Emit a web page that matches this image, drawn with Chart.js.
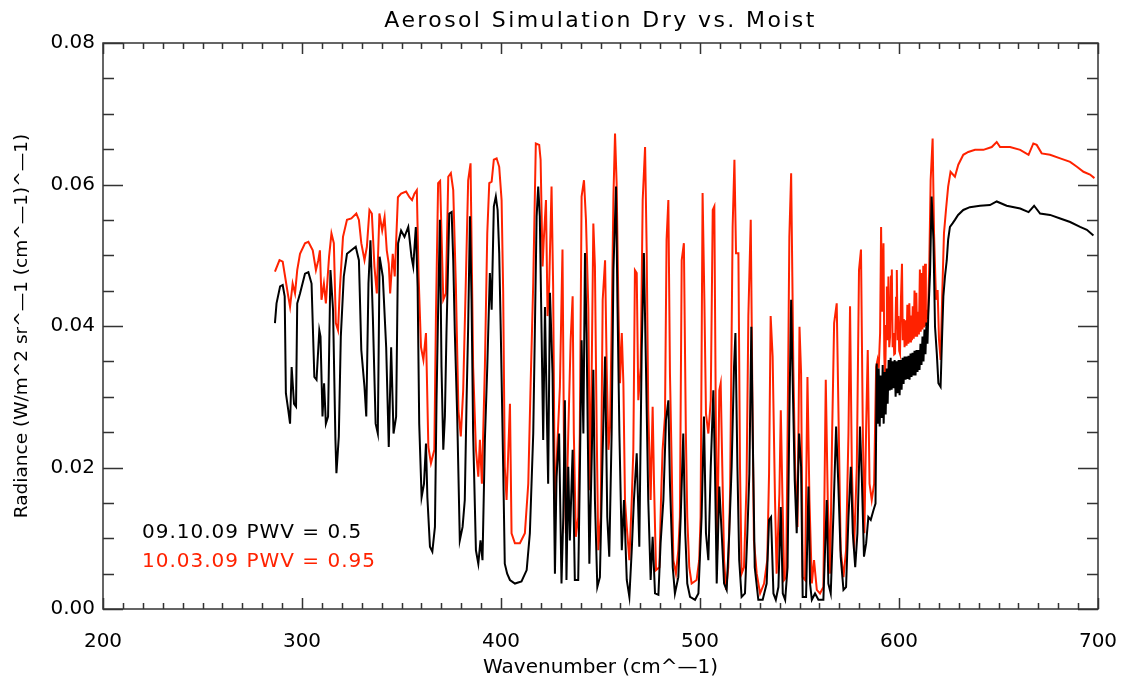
<!DOCTYPE html>
<html>
<head>
<meta charset="utf-8">
<title>Aerosol Simulation Dry vs. Moist</title>
<script src="https://cdn.jsdelivr.net/npm/chart.js@4.4.1/dist/chart.umd.min.js"></script>
<style>
    html, body { margin: 0; padding: 0; background: #fff; }
    #wrap { width: 1123px; height: 681px; }
</style>
</head>
<body>
<div id="wrap"><canvas id="canvasSpectrum" width="1123" height="681"></canvas></div>
<script>
// Wykres widma (wavenumber cm^-1, radiancja)
const TITLE = 'Aerosol Simulation Dry vs. Moist';
const X_TITLE = 'Wavenumber (cm^\u20141)';
const Y_TITLE = 'Radiance (W/m^2 sr^\u20141 (cm^\u20141)^\u20141)';
const X_TICKS = [200, 300, 400, 500, 600, 700];
const Y_TICKS = [0, 0.02, 0.04, 0.06, 0.08];
const SERIES_LABELS = ['09.10.09 PWV = 0.5', '10.03.09 PWV = 0.95'];

// 09.10.09 (sucho) — czarna
const dryWn = [
    286.4, 287.2, 289.0, 290.3, 291.3, 291.9, 293.1, 294.0, 294.8, 296.0, 297.0, 297.6, 299.0, 301.5, 303.2, 304.8,
    306.2, 307.3, 308.7, 309.3, 310.3, 311.1, 312.0, 313.1, 314.3, 315.6, 316.8, 317.3, 318.5, 319.5, 321.0, 322.6,
    324.8, 327.0, 328.6, 329.8, 331.4, 332.3, 333.4, 334.4, 335.6, 337.0, 338.1, 339.0, 340.6, 342.3, 343.6, 344.8,
    346.0, 347.3, 348.3, 349.8, 351.5, 353.4, 355.0, 355.9, 357.2, 358.1, 358.9, 360.1, 361.3, 362.3, 363.0, 364.3,
    365.5, 366.8, 367.6, 368.5, 369.3, 370.1, 371.0, 371.8, 372.6, 374.0, 375.2, 376.0, 376.8, 378.0, 379.3, 380.7,
    381.8, 382.7, 383.5, 384.4, 385.2, 386.0, 387.4, 388.6, 389.7, 390.7, 391.9, 393.1, 394.4, 395.3, 396.4, 397.4,
    398.3, 399.1, 399.9, 401.1, 401.9, 403.1, 404.5, 407.0, 410.3, 412.9, 414.5, 416.2, 417.0, 417.9, 418.7, 419.5,
    420.4, 421.2, 422.1, 422.9, 423.7, 424.6, 425.9, 427.1, 427.9, 429.2, 430.4, 431.3, 432.1, 432.9, 433.8, 434.6,
    436.0, 437.1, 438.8, 439.6, 440.5, 441.4, 442.2, 443.0, 444.4, 445.6, 446.4, 447.2, 448.4, 449.7, 451.1, 452.3,
    453.4, 454.4, 455.6, 456.5, 457.8, 458.5, 459.5, 460.7, 461.8, 463.2, 464.5, 465.7, 466.8, 468.2, 469.5, 470.7,
    471.8, 472.9, 474.0, 475.2, 476.2, 477.4, 479.1, 480.2, 481.6, 482.9, 484.1, 484.9, 486.3, 487.4, 489.1, 490.3,
    491.6, 492.6, 493.6, 495.0, 497.5, 499.2, 500.8, 502.0, 503.0, 504.2, 505.4, 506.7, 507.5, 508.4, 509.7, 510.9,
    512.1, 513.4, 514.7, 515.9, 517.1, 517.8, 518.8, 519.7, 520.9, 522.6, 523.8, 524.8, 525.8, 526.5, 527.5, 529.3,
    531.5, 533.5, 534.7, 535.7, 536.9, 538.1, 539.4, 540.6, 541.6, 542.8, 544.0, 544.9, 545.8, 546.6, 547.6, 548.6,
    549.8, 550.8, 551.6, 553.3, 554.5, 555.3, 556.2, 557.8, 559.5, 562.0, 563.7, 564.5, 565.7, 567.0, 568.4, 569.5,
    570.7, 572.1, 573.4, 574.6, 575.8, 576.8, 578.0, 579.1, 580.4, 581.3, 582.4, 583.5, 584.6, 585.8, 587.2, 588.2,
    588.8, 589.3, 589.8, 590.3, 590.8, 591.3, 591.8, 592.3, 592.8, 593.3, 593.8, 594.3, 594.8, 595.3, 595.8, 596.3,
    596.8, 597.3, 597.8, 598.3, 598.8, 599.3, 599.8, 600.3, 600.8, 601.3, 601.8, 602.3, 602.8, 603.3, 603.8, 604.3,
    604.8, 605.3, 605.8, 606.3, 606.8, 607.3, 607.8, 608.3, 608.8, 609.3, 609.8, 610.3, 610.8, 611.3, 611.8, 612.3,
    612.8, 613.3, 613.8, 614.3, 614.7, 615.6, 616.4, 617.3, 618.1, 619.0, 619.8, 620.9, 621.7, 622.3, 623.1, 624.0,
    624.7, 625.6, 626.9, 628.1, 629.7, 632.3, 635.6, 640.7, 645.7, 649.1, 654.1, 660.9, 665.1, 667.9, 670.9, 675.9,
    681.0, 686.0, 691.0, 694.4, 697.7
];
const dryRad = [
    .0404, .0432, .0456, .0458, .0442, .0305, .0281, .0262, .0342, .0290, .0286, .0432, .0446, .0474, .0476, .0460,
    .0328, .0324, .0394, .0385, .0272, .0319, .0262, .0272, .0479, .0423, .0239, .0192, .0244, .0385, .0470, .0502,
    .0507, .0512, .0493, .0366, .0314, .0272, .0460, .0521, .0413, .0262, .0248, .0498, .0470, .0370, .0229, .0370,
    .0248, .0272, .0517, .0535, .0526, .0540, .0498, .0484, .0540, .0455, .0262, .0158, .0177, .0234, .0158, .0088,
    .0081, .0116, .0295, .0437, .0550, .0342, .0225, .0272, .0390, .0559, .0561, .0493, .0390, .0272, .0097, .0116,
    .0154, .0295, .0399, .0555, .0437, .0248, .0083, .0064, .0097, .0069, .0239, .0342, .0475, .0423, .0569, .0583,
    .0564, .0503, .0390, .0201, .0064, .0050, .0041, .0036, .0039, .0055, .0107, .0248, .0390, .0555, .0597, .0555,
    .0390, .0239, .0427, .0295, .0177, .0447, .0333, .0050, .0187, .0248, .0036, .0130, .0295, .0041, .0201, .0097,
    .0225, .0041, .0041, .0187, .0380, .0248, .0503, .0390, .0064, .0215, .0338, .0154, .0031, .0045, .0225, .0357,
    .0130, .0074, .0248, .0479, .0597, .0437, .0248, .0083, .0154, .0041, .0017, .0083, .0154, .0220, .0088, .0366,
    .0503, .0333, .0154, .0041, .0102, .0022, .0020, .0093, .0154, .0267, .0295, .0177, .0059, .0022, .0045, .0130,
    .0248, .0107, .0036, .0017, .0013, .0022, .0130, .0272, .0107, .0069, .0201, .0309, .0201, .0036, .0173, .0107,
    .0036, .0027, .0107, .0201, .0342, .0390, .0201, .0069, .0017, .0022, .0107, .0191, .0399, .0248, .0059, .0013,
    .0013, .0036, .0126, .0130, .0022, .0013, .0031, .0144, .0022, .0013, .0059, .0272, .0437, .0319, .0182, .0107,
    .0248, .0201, .0017, .0017, .0173, .0036, .0013, .0022, .0013, .0013, .0154, .0036, .0022, .0130, .0258, .0177,
    .0074, .0027, .0031, .0130, .0201, .0107, .0059, .0107, .0258, .0187, .0074, .0093, .0130, .0126, .0140, .0149,
    .0347, .0262, .0340, .0258, .0330, .0270, .0345, .0262, .0335, .0275, .0340, .0290, .0352, .0309, .0355, .0310,
    .0350, .0312, .0352, .0300, .0350, .0305, .0352, .0302, .0352, .0310, .0355, .0318, .0357, .0324, .0357, .0325,
    .0358, .0324, .0361, .0328, .0362, .0330, .0365, .0330, .0366, .0335, .0366, .0338, .0375, .0345, .0385, .0350,
    .0395, .0360, .0405, .0375, .0414, .0475, .0583, .0522, .0399, .0361, .0319, .0314, .0390, .0442, .0470, .0493,
    .0522, .0540, .0545, .0550, .0557, .0564, .0568, .0570, .0571, .0576, .0570, .0566, .0561, .0570, .0559, .0557,
    .0552, .0547, .0540, .0536, .0528
];

// 10.03.09 (wilgotno) — czerwona
const moistWn = [
    286.4, 288.7, 290.3, 291.5, 293.1, 294.0, 295.3, 296.5, 297.6, 299.0, 301.5, 303.2, 305.4, 307.0, 308.2, 309.0,
    309.8, 311.0, 312.0, 313.6, 314.8, 316.0, 317.0, 318.1, 319.0, 320.6, 322.6, 324.8, 327.3, 328.6, 329.8, 331.4,
    332.6, 333.9, 335.1, 336.4, 337.6, 338.9, 340.3, 341.5, 342.6, 343.6, 344.3, 345.6, 346.6, 348.2, 349.8, 352.3,
    354.0, 355.3, 356.5, 357.7, 358.6, 359.8, 361.0, 362.3, 363.5, 364.8, 366.5, 367.3, 368.4, 369.4, 370.1, 371.0,
    372.3, 373.5, 374.8, 376.0, 377.3, 378.6, 379.8, 381.0, 382.3, 383.5, 384.7, 385.4, 386.0, 387.4, 388.6, 389.4,
    390.4, 391.9, 393.1, 394.1, 395.3, 396.4, 397.8, 399.1, 400.3, 401.1, 401.9, 402.8, 404.5, 405.3, 407.0, 409.5,
    412.0, 413.7, 414.9, 416.2, 417.5, 419.2, 419.9, 420.9, 421.5, 422.6, 423.4, 424.2, 425.4, 426.2, 427.1, 428.2,
    429.6, 430.9, 431.6, 432.6, 433.8, 435.0, 436.0, 436.6, 437.6, 438.8, 439.6, 440.5, 441.7, 442.7, 443.9, 444.7,
    445.6, 446.4, 447.2, 448.1, 448.9, 450.1, 451.1, 452.3, 453.1, 454.0, 454.8, 455.6, 456.5, 457.3, 458.1, 459.0,
    459.8, 460.7, 461.5, 462.3, 463.2, 464.5, 465.7, 466.5, 467.3, 468.2, 469.0, 470.2, 471.2, 472.4, 473.2, 474.0,
    475.2, 476.2, 476.9, 477.9, 479.6, 480.4, 481.2, 482.4, 483.2, 484.1, 484.9, 485.8, 486.6, 487.9, 489.1, 489.9,
    490.8, 491.9, 492.9, 493.6, 494.6, 495.8, 498.3, 499.6, 500.3, 501.3, 502.2, 503.0, 504.2, 505.4, 506.4, 507.2,
    508.0, 508.7, 509.7, 510.4, 511.2, 512.1, 513.1, 514.2, 515.1, 515.9, 516.4, 517.3, 518.1, 519.3, 520.1, 520.9,
    522.1, 523.4, 524.3, 525.5, 526.5, 527.1, 528.5, 530.2, 532.2, 533.8, 534.7, 535.5, 536.5, 537.7, 538.5, 539.9,
    540.6, 541.4, 542.3, 543.3, 544.1, 544.9, 545.8, 546.4, 546.9, 547.8, 549.0, 550.0, 550.8, 551.6, 552.8, 554.0,
    555.0, 556.2, 557.3, 558.7, 560.3, 562.0, 563.2, 564.2, 565.4, 566.4, 567.4, 568.7, 569.7, 570.7, 572.1, 573.4,
    574.6, 575.4, 576.3, 577.4, 578.8, 579.9, 580.9, 581.8, 582.6, 583.5, 584.3, 585.2, 586.3, 587.5, 588.5, 589.2,
    589.8, 590.5, 591.0, 591.5, 592.2, 592.6, 593.0, 593.5, 593.9, 594.3, 594.7, 595.1, 595.5, 596.0, 596.4, 596.8,
    597.2, 597.6, 598.0, 598.5, 598.9, 599.3, 599.7, 600.1, 600.5, 601.0, 601.5, 601.9, 602.4, 602.8, 603.3, 603.8,
    604.2, 604.7, 605.2, 605.6, 606.0, 606.5, 606.9, 607.4, 607.8, 608.2, 608.7, 609.1, 609.6, 610.0, 610.5, 610.9,
    611.4, 611.8, 612.2, 612.6, 613.1, 613.5, 613.9, 614.5, 615.2, 615.9, 616.9, 617.6, 618.6, 619.4, 620.1, 620.9,
    621.7, 622.6, 623.6, 624.7, 625.9, 628.1, 629.8, 632.3, 634.8, 638.2, 642.4, 646.6, 649.1, 650.8, 655.8, 660.9,
    665.1, 667.5, 669.2, 671.7, 675.9, 681.0, 686.0, 689.4, 692.7, 696.0, 698.2
];
const moistRad = [
    .0477, .0493, .0491, .0470, .0442, .0427, .0460, .0446, .0479, .0502, .0517, .0519, .0507, .0479, .0493, .0507,
    .0437, .0460, .0432, .0498, .0531, .0517, .0404, .0394, .0451, .0526, .0550, .0552, .0559, .0550, .0517, .0493,
    .0512, .0564, .0559, .0484, .0446, .0559, .0535, .0554, .0507, .0488, .0446, .0502, .0470, .0582, .0587, .0590,
    .0582, .0578, .0587, .0592, .0470, .0370, .0352, .0390, .0229, .0206, .0225, .0413, .0602, .0605, .0531, .0437,
    .0446, .0611, .0616, .0592, .0460, .0281, .0244, .0309, .0460, .0606, .0630, .0475, .0342, .0225, .0187, .0239,
    .0177, .0342, .0531, .0602, .0604, .0635, .0637, .0625, .0578, .0447, .0201, .0154, .0290, .0107, .0093, .0093,
    .0107, .0177, .0319, .0461, .0658, .0656, .0635, .0484, .0522, .0578, .0414, .0456, .0597, .0456, .0130, .0225,
    .0314, .0508, .0248, .0107, .0248, .0380, .0442, .0248, .0102, .0130, .0248, .0583, .0606, .0550, .0423, .0168,
    .0342, .0545, .0484, .0248, .0083, .0130, .0437, .0493, .0342, .0225, .0258, .0399, .0583, .0672, .0602, .0428,
    .0319, .0390, .0319, .0154, .0116, .0069, .0154, .0225, .0479, .0475, .0295, .0342, .0578, .0653, .0508, .0281,
    .0154, .0286, .0177, .0055, .0059, .0154, .0225, .0272, .0522, .0578, .0333, .0201, .0069, .0050, .0083, .0130,
    .0493, .0517, .0248, .0130, .0059, .0036, .0041, .0069, .0130, .0588, .0437, .0276, .0248, .0295, .0564, .0569,
    .0248, .0083, .0309, .0319, .0201, .0069, .0027, .0059, .0163, .0390, .0540, .0635, .0503, .0503, .0201, .0050,
    .0059, .0177, .0414, .0550, .0248, .0097, .0050, .0022, .0036, .0069, .0191, .0414, .0357, .0154, .0050, .0163,
    .0281, .0163, .0041, .0045, .0272, .0526, .0616, .0470, .0342, .0201, .0116, .0399, .0333, .0045, .0041, .0328,
    .0154, .0036, .0069, .0027, .0022, .0031, .0324, .0154, .0050, .0248, .0404, .0432, .0258, .0083, .0045, .0083,
    .0248, .0428, .0201, .0083, .0201, .0479, .0508, .0258, .0107, .0258, .0366, .0177, .0154, .0177, .0342, .0352,
    .0340, .0390, .0540, .0420, .0517, .0360, .0319, .0400, .0456, .0380, .0470, .0370, .0385, .0470, .0480, .0370,
    .0390, .0360, .0361, .0440, .0479, .0380, .0414, .0365, .0361, .0440, .0488, .0380, .0410, .0370, .0408, .0372,
    .0430, .0375, .0432, .0378, .0415, .0380, .0428, .0382, .0450, .0385, .0447, .0385, .0420, .0388, .0480, .0392,
    .0475, .0395, .0485, .0398, .0488, .0400, .0423, .0410, .0484, .0606, .0665, .0531, .0437, .0451, .0381, .0352,
    .0442, .0531, .0564, .0597, .0618, .0611, .0628, .0642, .0646, .0649, .0649, .0653, .0660, .0653, .0653, .0649,
    .0642, .0658, .0656, .0644, .0642, .0637, .0632, .0625, .0618, .0614, .0609
];

const FONT = 'DejaVu Sans';
const RED = '#ff2200';

function toPoints(xs, ys) {
    return xs.map((x, i) => ({ x: x, y: ys[i] }));
}

// Ramka z tickami do wewnątrz (jak w IDL), tytuł i opisy serii
const idlFrame = {
    id: 'idlFrame',
    afterDraw(chart) {
        const { ctx, chartArea: a, scales: { x, y } } = chart;
        ctx.save();
        ctx.strokeStyle = '#333';
        ctx.lineWidth = 1.5;
        ctx.strokeRect(a.left, a.top, a.right - a.left, a.bottom - a.top);
        ctx.beginPath();
        for (let v = X_TICKS[0]; v <= X_TICKS[X_TICKS.length - 1]; v += 10) {
            const px = Math.round(x.getPixelForValue(v)) + 0.5;
            const len = v % 100 === 0 ? 11 : 6;
            ctx.moveTo(px, a.bottom); ctx.lineTo(px, a.bottom - len);
            ctx.moveTo(px, a.top); ctx.lineTo(px, a.top + len);
        }
        for (let i = 0; i <= 16; i++) {
            const v = i * 0.005;
            const py = Math.round(y.getPixelForValue(v)) + 0.5;
            const len = i % 4 === 0 ? 20 : 11;
            ctx.moveTo(a.left, py); ctx.lineTo(a.left + len, py);
            ctx.moveTo(a.right, py); ctx.lineTo(a.right - len, py);
        }
        ctx.stroke();

        ctx.textBaseline = 'middle';
        // tytuł (szeroki krój jak w IDL)
        ctx.font = '22px ' + FONT;
        ctx.letterSpacing = '2.4px';
        ctx.fillStyle = '#000';
        ctx.textAlign = 'center';
        ctx.fillText(TITLE, (a.left + a.right) / 2, 21);

        // opisy serii w lewym dolnym rogu
        ctx.font = '20px ' + FONT;
        ctx.letterSpacing = '1px';
        ctx.textAlign = 'left';
        chart.data.datasets.forEach((ds, i) => {
            ctx.fillStyle = ds.borderColor;
            ctx.fillText(ds.label, 142, 533 + i * 29);
        });
        ctx.restore();
    }
};

new Chart(document.getElementById('canvasSpectrum'), {
    type: 'line',
    data: {
        datasets: [
            {
                label: SERIES_LABELS[0],
                data: toPoints(dryWn, dryRad),
                borderColor: '#000000',
                borderWidth: 2,
                pointRadius: 0,
                tension: 0
            },
            {
                label: SERIES_LABELS[1],
                data: toPoints(moistWn, moistRad),
                borderColor: RED,
                borderWidth: 2,
                pointRadius: 0,
                tension: 0
            }
        ]
    },
    options: {
        responsive: false,
        animation: false,
        devicePixelRatio: 1,
        layout: { padding: { top: 43, right: 25, bottom: 0, left: 0 } },
        plugins: {
            legend: { display: false },
            tooltip: { enabled: false },
            title: { display: false }
        },
        scales: {
            x: {
                type: 'linear',
                min: 200,
                max: 700,
                afterFit(s) { s.height = 72; s.paddingLeft = 0; s.paddingRight = 0; },
                afterBuildTicks(s) { s.ticks = X_TICKS.map(v => ({ value: v })); },
                grid: { display: false, drawTicks: false },
                border: { display: false },
                ticks: { color: '#000', padding: 21, maxRotation: 0, font: { family: FONT, size: 20 } },
                title: {
                    display: true,
                    text: X_TITLE,
                    color: '#000',
                    font: { family: FONT, size: 20 },
                    padding: { top: 0, bottom: 1 }
                }
            },
            y: {
                type: 'linear',
                min: 0,
                max: 0.08,
                afterFit(s) { s.width = 103; s.paddingTop = 0; s.paddingBottom = 0; },
                afterBuildTicks(s) { s.ticks = Y_TICKS.map(v => ({ value: v })); },
                grid: { display: false, drawTicks: false },
                border: { display: false },
                ticks: {
                    color: '#000',
                    padding: 8,
                    font: { family: FONT, size: 20 },
                    callback: v => v.toFixed(2)
                },
                title: {
                    display: true,
                    text: Y_TITLE,
                    color: '#000',
                    font: { family: FONT, size: 18.5 },
                    padding: { top: 11, bottom: 0 }
                }
            }
        }
    },
    plugins: [idlFrame]
});
</script>
</body>
</html>
